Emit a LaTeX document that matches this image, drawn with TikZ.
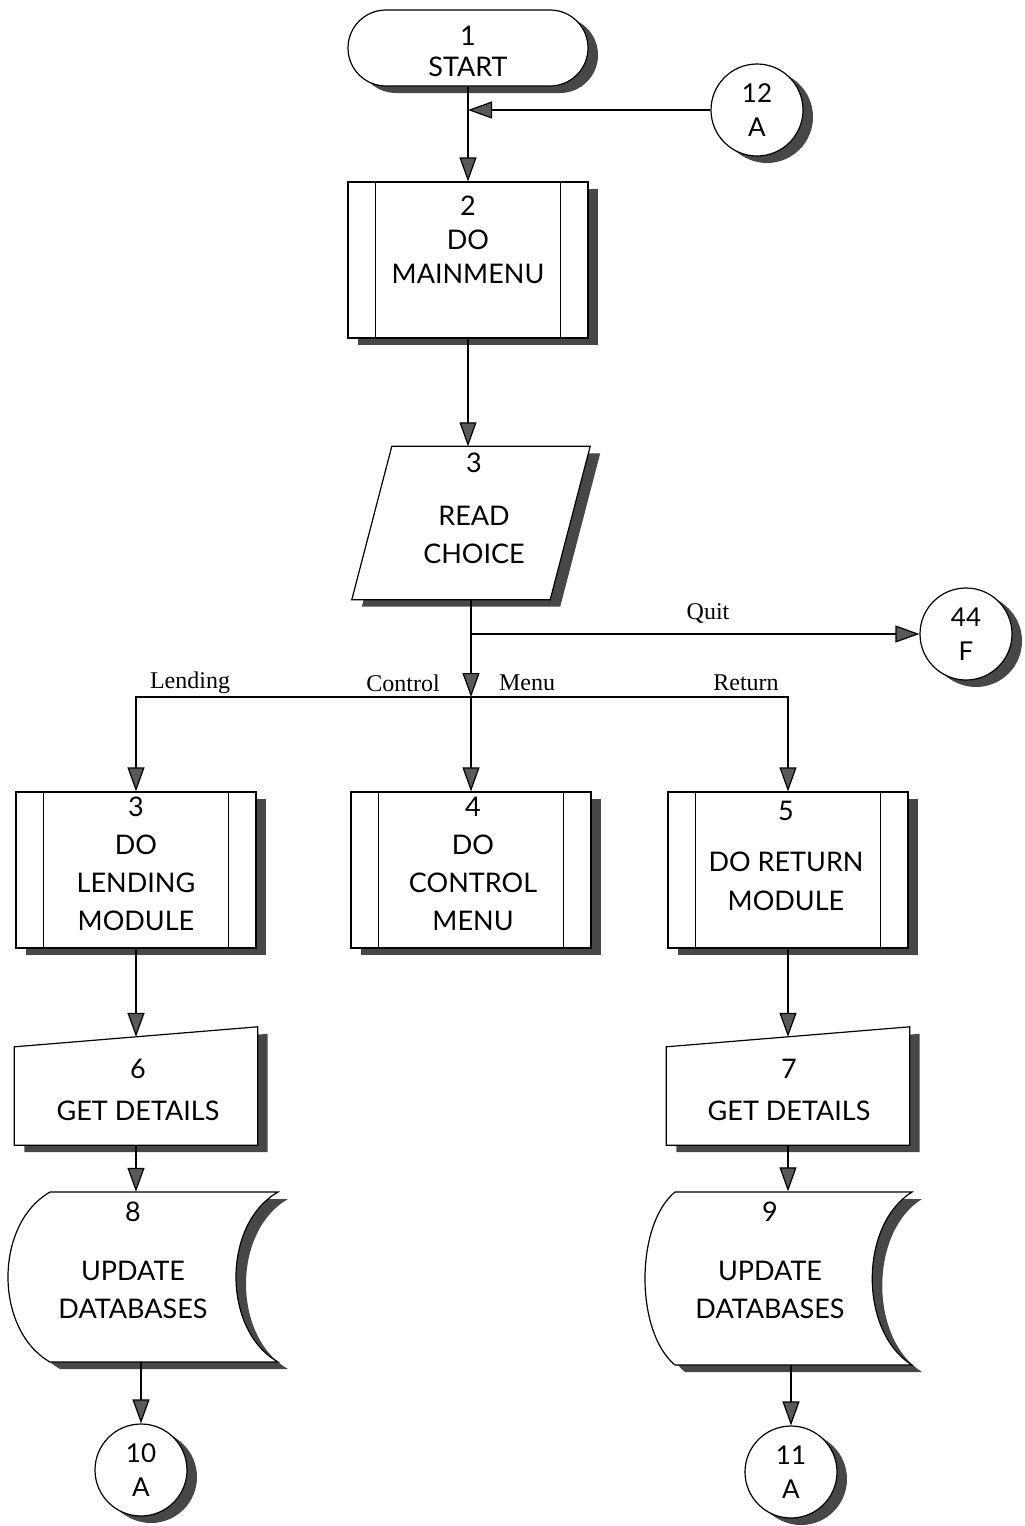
\documentclass[tikz,border=0pt]{standalone}
\usepackage{fontspec}
\setmainfont{Liberation Serif}
\newfontfamily\boxfont{Lato}
\usetikzlibrary{arrows.meta,shapes.misc,shadows}
\begin{document}
\begin{tikzpicture}[x=1pt,y=-1pt,
  shp/.style={draw=black,line width=1.2pt,fill=white,
     general shadow={fill=black!72,shadow xshift=10pt,shadow yshift=-7pt}},
  ghost/.style={draw=none,inner sep=0pt,rectangle},
  txt/.style={font=\boxfont\fontsize{27}{36}\selectfont,align=center,inner sep=0pt},
  elbl/.style={font=\fontsize{24}{26}\selectfont,inner sep=0pt},
  ln/.style={draw=black,line width=1.2pt},
  arr/.style={-{Triangle[length=24pt,width=17pt,fill=black!65]}},
  pp/.style={shp,rectangle,minimum width=240pt,minimum height=156pt,inner sep=0pt},
  conn/.style={shp,circle,minimum size=92pt,inner sep=0pt,
     general shadow={fill=black!72,shadow xshift=7pt,shadow yshift=-5pt},
     font=\boxfont\fontsize{26}{35}\selectfont,align=center},
]
\useasboundingbox (0,0) rectangle (1025,1526);

% ---------- shapes ----------
\node[shp,rounded rectangle,minimum width=240pt,minimum height=76pt,inner sep=0pt] (start) at (468,48) {};
\node[pp] (b2) at (468,260) {};

\node[ghost,minimum width=238pt,minimum height=153pt] (rc) at (471,523) {};
\draw[shp] ([xshift=40pt]rc.north west) -- (rc.north east) -- ([xshift=-40pt]rc.south east) -- (rc.south west) -- cycle;

\node[conn] (c12) at (757,110) {12\\[-1pt]A};
\node[conn] (c44) at (966,634) {44\\[-1pt]F};

\node[pp] (b3) at (136,870) {};
\node[pp] (b4) at (471,870) {};
\node[pp] (b5) at (788,870) {};
\foreach \n in {b2,b3,b4,b5}{
  \draw[ln] ([xshift=28pt]\n.north west) -- ([xshift=28pt]\n.south west);
  \draw[ln] ([xshift=-28pt]\n.north east) -- ([xshift=-28pt]\n.south east);
}

\node[ghost,minimum width=243pt,minimum height=118pt] (b6) at (136,1086) {};
\draw[shp] ([yshift=-20pt]b6.north west) -- (b6.north east) -- (b6.south east) -- (b6.south west) -- cycle;
\node[ghost,minimum width=243pt,minimum height=118pt] (b7) at (788,1086) {};
\draw[shp] ([yshift=-20pt]b7.north west) -- (b7.north east) -- (b7.south east) -- (b7.south west) -- cycle;

\node[ghost,minimum width=270pt,minimum height=170pt] (db8) at (143,1277) {};
\draw[shp] (50,1192) -- (278,1192) .. controls (222,1224) and (222,1330) .. (278,1362)
  -- (50,1362) .. controls (-6,1330) and (-6,1224) .. (50,1192) -- cycle;
\node[ghost,minimum width=267pt,minimum height=173pt] (db9) at (778,1278) {};
\draw[shp] (675,1192) -- (912,1192) .. controls (859,1225) and (859,1332) .. (912,1365)
  -- (675,1365) .. controls (635,1332) and (635,1225) .. (675,1192) -- cycle;

\node[conn] (c10) at (141,1470) {10\\[-1pt]A};
\node[conn] (c11) at (791,1472) {11\\[-1pt]A};

% ---------- texts ----------
\node[txt] (t1) at (468,51) {1\\[-5pt]START};
\node[txt] (t2) at (468,240) {2\\[-2pt]DO\\[-2pt]MAINMENU};
\node[txt] (t3) at (474,508) {3\\[17pt]READ\\[2pt]CHOICE};
\node[txt] (tb3) at (136,864) {3\\[2pt]DO\\[2pt]LENDING\\[2pt]MODULE};
\node[txt] (tb4) at (473,864) {4\\[2pt]DO\\[2pt]CONTROL\\[2pt]MENU};
\node[txt] (tb5) at (786,856) {5\\[15pt]DO RETURN\\[3pt]MODULE};
\node[txt] (tb6) at (138,1090) {6\\[6pt]GET DETAILS};
\node[txt] (tb7) at (789,1090) {7\\[6pt]GET DETAILS};
\node[txt] (tdb8) at (133,1260) {8\\[23pt]UPDATE\\[2pt]DATABASES};
\node[txt] (tdb9) at (770,1260) {9\\[23pt]UPDATE\\[2pt]DATABASES};

\node[elbl] (lq) at (708,613) {Quit};
\node[elbl] (ll) at (190,683) {Lending};
\node[elbl] (lc) at (403,683) {Control};
\node[elbl] (lm) at (527,683) {Menu};
\node[elbl] (lr) at (746,683) {Return};

% ---------- connectors ----------
\coordinate (j12) at (468,110);
\coordinate (jq) at (471,634);
\coordinate (jm) at (471,697);
\draw[ln,arr] (start.south) -- (b2.north);
\draw[ln,arr] (c12.west) -- (j12);
\draw[ln,arr] (b2.south) -- (b2.south |- rc.north);
\draw[ln,arr] (rc.south) -- (jm);
\draw[ln,arr] (jm) -- (b4.north);
\draw[ln,arr] (jq) -- (c44.west);
\draw[ln,arr] (jm) -| (b3.north);
\draw[ln,arr] (jm) -| (b5.north);
\draw[ln,arr] (b3.south) -- ([yshift=-10pt]b6.north);
\draw[ln,arr] (b5.south) -- ([yshift=-10pt]b7.north);
\draw[ln,arr] (b6.south) -- (b6.south |- db8.north);
\draw[ln,arr] (b7.south) -- (b7.south |- db9.north);
\draw[ln,arr] (c10 |- db8.south) -- (c10.north);
\draw[ln,arr] (c11 |- db9.south) -- (c11.north);
\end{tikzpicture}
\end{document}
